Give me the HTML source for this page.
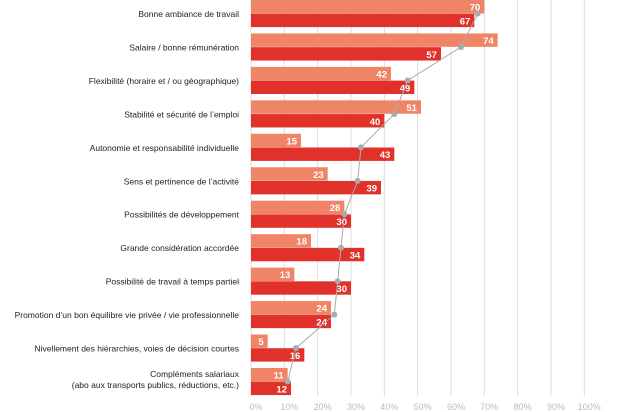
<!DOCTYPE html>
<html><head><meta charset="utf-8"><style>
body{margin:0;background:#fff;font-family:"Liberation Sans",sans-serif}
svg{display:block}
</style></head><body>
<svg id="chart" width="630" height="412"></svg>
<script>
const categories=["Bonne ambiance de travail","Salaire / bonne rémunération","Flexibilité (horaire et / ou géographique)","Stabilité et sécurité de l’emploi","Autonomie et responsabilité individuelle","Sens et pertinence de l’activité","Possibilités de développement","Grande considération accordée","Possibilité de travail à temps partiel","Promotion d’un bon équilibre vie privée / vie professionnelle","Nivellement des hiérarchies, voies de décision courtes","Compléments salariaux|(abo aux transports publics, réductions,  etc.)"];
const seriesA=[70,74,42,51,15,23,28,18,13,24,5,11];
const seriesB=[67,57,49,40,43,39,30,34,30,24,16,12];
const lineValues=[68,63,47,43,33,32,28,27,26,25,13.5,11];
const ticks=[0,10,20,30,40,50,60,70,80,90,100];
const NS="http://www.w3.org/2000/svg";
const svg=document.getElementById('chart');
const x0=251,pxPer=3.333,rowH=33.45,barH=13.4;
const xs=v=>x0+v*pxPer;
const ys=i=>i*rowH;
function mk(t,a){const e=document.createElementNS(NS,t);for(const k in a)e.setAttribute(k,a[k]);svg.appendChild(e);return e;}
ticks.forEach(t=>{
 const g=mk('line',{x1:xs(t),x2:xs(t),y1:0,y2:396,stroke:'#dcdcdc','stroke-width':1});
 
 
 const tl=mk('text',{x:xs(t)+5,y:410,'font-size':9,fill:'#bbb','text-anchor':'middle'});
 tl.textContent=t+'%';
 
 
});
categories.forEach((c,i)=>{
 const y=ys(i);
 const ra=mk('rect',{x:x0,y:y,width:seriesA[i]*pxPer,height:barH,fill:'#ef8467'});
 
 
 const rb=mk('rect',{x:x0,y:y+barH+0.3,width:seriesB[i]*pxPer,height:barH,fill:'#e0312b'});
 
 
 const ta=mk('text',{x:xs(seriesA[i])-4,y:y+10.5,'font-size':9.5,'font-weight':'bold',fill:'#fff','text-anchor':'end'});
 ta.textContent=seriesA[i];
 
 
 const tb=mk('text',{x:xs(seriesB[i])-4,y:y+barH+11,'font-size':9.5,'font-weight':'bold',fill:'#fff','text-anchor':'end'});
 tb.textContent=seriesB[i];
 
 
 const parts=c.split('|');
 parts.forEach((p,j)=>{
  const cy=parts.length>1? y+9+j*11 : y+17;
  const l=mk('text',{x:239,y:cy,'font-size':8.5,fill:'#222','text-anchor':'end'});
  l.textContent=p;
  
  
 });
});
const pts=lineValues.map((v,i)=>xs(v)+','+(ys(i)+barH+0.2)).join(' ');
const pl=mk('polyline',{points:pts,fill:'none',stroke:'#aaa','stroke-width':1});


lineValues.forEach((v,i)=>{
 const c=mk('circle',{cx:xs(v),cy:ys(i)+barH+0.2,r:3,fill:'#aaa'});
 
 
});
</script>
</body></html>
